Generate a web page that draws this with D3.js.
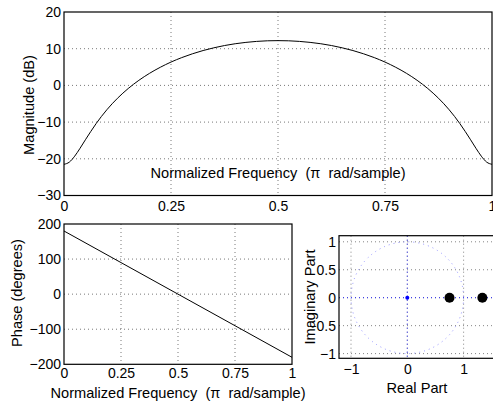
<!DOCTYPE html>
<html><head><meta charset="utf-8">
<script src="https://cdn.jsdelivr.net/npm/d3@7"></script>
<style>
body{margin:0;background:#fff;}
svg text{font-family:"Liberation Sans",Arial,Helvetica,sans-serif;fill:#000;white-space:pre;}
</style></head><body>
<svg id="c" width="493" height="405"></svg>
<script>
// ---- data ----
const magFreq = [0,0.0125,0.025,0.0375,0.05,0.075,0.1,0.125,0.15,0.175,0.2,0.225,0.25,0.275,0.3,0.325,0.35,0.375,0.4,0.425,0.45,0.475,0.5,
  0.525,0.55,0.575,0.6,0.625,0.65,0.675,0.7,0.725,0.75,0.775,0.8,0.825,0.85,0.875,0.9,0.925,0.95,0.9625,0.975,0.9875,1];
const magDb = [-21.5,-20.9,-19.28,-17.13,-14.82,-10.42,-6.65,-3.50,-0.85,1.39,3.30,4.94,6.36,7.57,8.61,9.50,10.24,10.86,11.35,11.72,11.99,12.15,12.2,
  12.15,11.99,11.72,11.35,10.86,10.24,9.50,8.61,7.57,6.36,4.94,3.30,1.39,-0.85,-3.50,-6.65,-10.42,-14.82,-17.13,-19.28,-20.9,-21.5];
const phaseFreq = [0,0.25,0.5,0.75,1];
const phaseDeg = [180,90,0,-90,-180];
const freqTicks = [0,0.25,0.5,0.75,1];
const freqTickLabels = ["0","0.25","0.5","0.75","1"];
const magTicks = [-30,-20,-10,0,10,20];
const phaseTicks = [-200,-100,0,100,200];
const zeroRe = [0.75,1.3333];
const zeroIm = [0,0];
const poleRe = [0];
const poleIm = [0];
const reTicks = [-1,0,1,2];
const imTicks = [-1,-0.5,0,0.5,1];
const imTickLabels = ["\u22121","\u22120.5","0","0.5","1"];
const xLabel = "Normalized Frequency  (\u03c0  rad/sample)";

const svg = d3.select("#c");
const FS = 14;      // tick labels
const LFS = 14.6;   // axis labels
const minus = s => String(s).replace("-", "\u2212");

function gridAxes(g, x, y, xt, yt, x0, x1, y0, y1, gridColor){
  xt.forEach(t=>{ const px=x(t); if(px>x0+0.5 && px<x1-0.5) g.append("line").attr("x1",px).attr("x2",px).attr("y1",y0).attr("y2",y1)
    .attr("stroke",gridColor).attr("stroke-width",0.8).attr("stroke-dasharray","1,3");});
  yt.forEach(t=>{ const py=y(t); if(py>y0+0.5 && py<y1-0.5) g.append("line").attr("y1",py).attr("y2",py).attr("x1",x0).attr("x2",x1)
    .attr("stroke",gridColor).attr("stroke-width",0.8).attr("stroke-dasharray","1,3");});
}
function box(g,x0,x1,y0,y1){
  g.append("rect").attr("x",x0).attr("y",y0).attr("width",x1-x0).attr("height",y1-y0)
   .attr("fill","none").attr("stroke","#000").attr("stroke-width",1.2);
}
function styleAxis(ga){
  ga.select(".domain").remove();
  ga.selectAll("text").attr("font-size",FS).attr("font-family",null);
}

// ---- Magnitude plot ----
{
  const x = d3.scaleLinear().domain([0,1]).range([64,492]);
  const y = d3.scaleLinear().domain([-30,20]).range([195.5,12]);
  const g = svg.append("g");
  gridAxes(g,x,y,freqTicks,magTicks,64,492,12,195.5,"#555");
  const line = d3.line().x((d,i)=>x(magFreq[i])).y(d=>y(d)).curve(d3.curveMonotoneX);
  g.append("path").attr("d",line(magDb)).attr("fill","none").attr("stroke","#000").attr("stroke-width",1);
  box(g,64,492,12,195.5);
  g.append("text").attr("x",x(0.5)).attr("y",178).attr("text-anchor","middle").attr("font-size",LFS).text(xLabel);
  const ax = d3.axisBottom(x).tickValues(freqTicks).tickFormat((d,i)=>freqTickLabels[i]).tickSize(0).tickPadding(6);
  styleAxis(g.append("g").attr("transform","translate(0,195.5)").call(ax));
  const ay = d3.axisLeft(y).tickValues(magTicks).tickFormat(d=>minus(d)).tickSize(0).tickPadding(3);
  styleAxis(g.append("g").attr("transform","translate(64,0)").call(ay));
  g.append("text").attr("transform","translate(34,105) rotate(-90)").attr("text-anchor","middle").attr("font-size",LFS).text("Magnitude (dB)");
}

// ---- Phase plot ----
{
  const x = d3.scaleLinear().domain([0,1]).range([64,292]);
  const y = d3.scaleLinear().domain([-200,200]).range([364.3,224]);
  const g = svg.append("g");
  gridAxes(g,x,y,freqTicks,phaseTicks,64,292,224,364.3,"#555");
  const line = d3.line().x((d,i)=>x(phaseFreq[i])).y(d=>y(d));
  g.append("path").attr("d",line(phaseDeg)).attr("fill","none").attr("stroke","#000").attr("stroke-width",1);
  box(g,64,292,224,364.3);
  const ax = d3.axisBottom(x).tickValues(freqTicks).tickFormat((d,i)=>freqTickLabels[i]).tickSize(0).tickPadding(4);
  styleAxis(g.append("g").attr("transform","translate(0,364.3)").call(ax));
  const ay = d3.axisLeft(y).tickValues(phaseTicks).tickFormat(d=>minus(d)).tickSize(0).tickPadding(3);
  styleAxis(g.append("g").attr("transform","translate(64,0)").call(ay));
  g.append("text").attr("x",178).attr("y",398).attr("text-anchor","middle").attr("font-size",LFS).text(xLabel);
  g.append("text").attr("transform","translate(22,293) rotate(-90)").attr("text-anchor","middle").attr("font-size",LFS).text("Phase (degrees)");
}

// ---- Pole-zero plot ----
{
  const x = d3.scaleLinear().domain([0,1]).range([407.3,463.6]);
  const y = d3.scaleLinear().domain([0,1]).range([297.7,241.8]);
  const x0=339, x1=540, y0=235.7, y1=358.3;
  const g = svg.append("g");
  gridAxes(g,x,y,reTicks,imTicks,x0,x1,y0,y1,"#666");
  g.append("line").attr("x1",x0).attr("x2",x1).attr("y1",y(0)).attr("y2",y(0)).attr("stroke","#2222ff").attr("stroke-width",0.9).attr("stroke-dasharray","1,3");
  g.append("line").attr("x1",x(0)).attr("x2",x(0)).attr("y1",y0).attr("y2",y1).attr("stroke","#2222ff").attr("stroke-width",0.9).attr("stroke-dasharray","1,3");
  g.append("ellipse").attr("cx",x(0)).attr("cy",y(0)).attr("rx",x(1)-x(0)).attr("ry",y(0)-y(1))
    .attr("fill","none").attr("stroke","#8888ff").attr("stroke-width",0.9).attr("stroke-dasharray","1,4");
  poleRe.forEach((r,i)=>g.append("circle").attr("cx",x(r)).attr("cy",y(poleIm[i])).attr("r",2).attr("fill","#0000ff"));
  zeroRe.forEach((r,i)=>g.append("circle").attr("cx",x(r)).attr("cy",y(zeroIm[i])).attr("r",5).attr("fill","#000"));
  box(g,x0,x1,y0,y1);
  const ax = d3.axisBottom(x).tickValues([-1,0,1]).tickFormat(d=>minus(d)).tickSize(0).tickPadding(6);
  styleAxis(g.append("g").attr("transform",`translate(0,${y1})`).call(ax));
  const ay = d3.axisLeft(y).tickValues(imTicks).tickFormat((d,i)=>imTickLabels[i]).tickSize(0).tickPadding(3);
  styleAxis(g.append("g").attr("transform",`translate(${x0},0)`).call(ay));
  g.append("text").attr("x",417).attr("y",393).attr("text-anchor","middle").attr("font-size",LFS).text("Real Part");
  g.append("text").attr("transform","translate(315,297) rotate(-90)").attr("text-anchor","middle").attr("font-size",LFS).text("Imaginary Part");
}
</script></body></html>
